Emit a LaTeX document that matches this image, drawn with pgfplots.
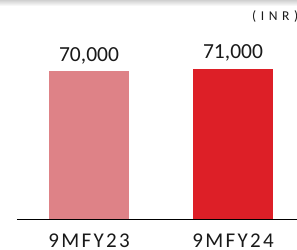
\documentclass[border=0pt]{standalone}
\usepackage{fontspec}
\setmainfont{Carlito}
\usepackage{pgfplots}
\pgfplotsset{compat=1.18}
\definecolor{barA}{RGB}{222,130,135}
\definecolor{barB}{RGB}{221,31,39}
\definecolor{txt}{RGB}{25,25,25}
\begin{document}
\begin{tikzpicture}[x=1pt,y=1pt]
\path[use as bounding box] (0,0) rectangle (297,249);
\clip (0,0) rectangle (297,249);
\shade[top color=black!20, bottom color=white] (0,243) rectangle (297,249.5);
\begin{axis}[at={(17pt,30pt)}, anchor=south west, scale only axis,
  width=280pt, height=219pt,
  xmin=-0.5, xmax=1.4444, ymin=0, ymax=103600,
  axis y line=none, axis x line=bottom,
  x axis line style={-, line width=0.9pt, black},
  xtick={0,1}, xticklabels={9MFY23,9MFY24},
  xtick style={draw=none},
  xticklabel style={font=\fontsize{21}{24}\selectfont\addfontfeature{LetterSpace=11}, text=txt, anchor=base, yshift=-26.5pt, inner sep=0pt, text depth=0pt},
  /pgf/number format/assume math mode=true,
  /pgf/number format/1000 sep={,},
  nodes near coords,
  nodes near coords style={font=\fontsize{21.5}{24}\selectfont, text=txt, anchor=base, yshift=10pt, inner sep=0pt},
  clip=false]
\addplot[ybar, bar width=80pt, bar shift=0pt, fill=barA, draw=none] coordinates {(0,70000)};
\addplot[ybar, bar width=80pt, bar shift=0pt, fill=barB, draw=none] coordinates {(1,71000)};
\end{axis}
\node[anchor=base west, inner sep=0pt, text=txt, font=\fontsize{13.5}{16}\selectfont\addfontfeature{LetterSpace=34}] at (252,228) {(INR)};
\end{tikzpicture}
\end{document}
